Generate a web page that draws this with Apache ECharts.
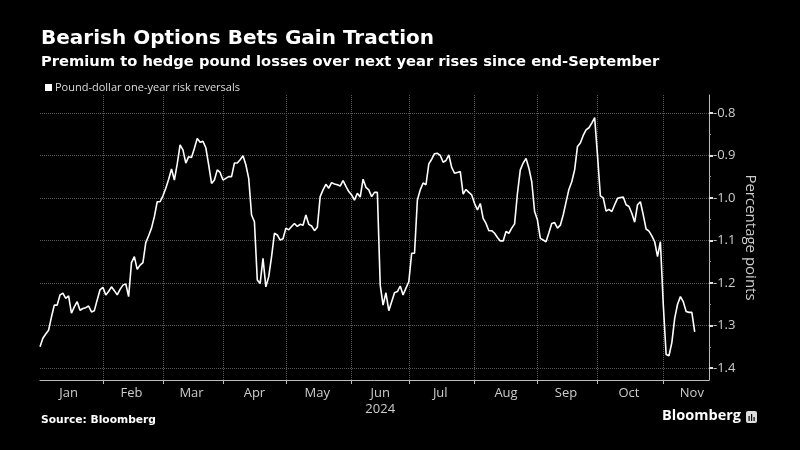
<!DOCTYPE html>
<html>
<head>
<meta charset="utf-8">
<script src="https://cdn.jsdelivr.net/npm/echarts@6/dist/echarts.min.js"></script>
<style>
  html, body { margin: 0; padding: 0; background: #000; }
  #chart { width: 800px; height: 450px; }
</style>
</head>
<body>
<div id="chart"></div>
<script>
// pound-dollar one-year risk reversals, one value per weekday
const janVals = [-1.35, -1.33, -1.32, -1.311, -1.28, -1.252, -1.252, -1.228, -1.224, -1.236, -1.23, -1.271, -1.256, -1.244, -1.264, -1.26, -1.258, -1.254, -1.268, -1.265, -1.24, -1.216];
const febVals = [-1.21, -1.228, -1.22, -1.209, -1.218, -1.228, -1.215, -1.205, -1.202, -1.232, -1.152, -1.138, -1.168, -1.158, -1.152, -1.105, -1.089, -1.071, -1.044, -1.009, -1.009];
const marVals = [-0.995, -0.977, -0.956, -0.932, -0.958, -0.92, -0.875, -0.887, -0.918, -0.903, -0.905, -0.883, -0.86, -0.869, -0.867, -0.882, -0.922, -0.966, -0.958, -0.934, -0.94];
const aprVals = [-0.958, -0.954, -0.95, -0.95, -0.918, -0.918, -0.91, -0.901, -0.922, -0.954, -1.04, -1.056, -1.193, -1.201, -1.142, -1.209, -1.185, -1.138, -1.083, -1.087, -1.099, -1.096];
const mayVals = [-1.071, -1.075, -1.067, -1.06, -1.067, -1.062, -1.064, -1.04, -1.062, -1.066, -1.077, -1.069, -0.997, -0.981, -0.968, -0.977, -0.964, -0.967, -0.969, -0.972, -0.959, -0.973, -0.985];
const junVals = [-0.993, -1.005, -0.989, -0.998, -0.956, -0.975, -0.981, -0.997, -0.987, -0.987, -1.205, -1.252, -1.223, -1.265, -1.244, -1.223, -1.22, -1.207, -1.228, -1.212];
const julVals = [-1.197, -1.13, -1.13, -1.005, -0.981, -0.965, -0.969, -0.92, -0.909, -0.896, -0.895, -0.9, -0.916, -0.912, -0.899, -0.928, -0.942, -0.94, -0.938, -0.991, -0.98, -0.987, -0.993];
const augVals = [-1.013, -1.028, -1.013, -1.048, -1.06, -1.077, -1.077, -1.083, -1.093, -1.101, -1.101, -1.079, -1.083, -1.071, -1.061, -0.989, -0.934, -0.918, -0.907, -0.93, -0.962, -1.032];
const sepVals = [-1.052, -1.095, -1.099, -1.103, -1.082, -1.06, -1.058, -1.071, -1.064, -1.04, -1.01, -0.98, -0.962, -0.934, -0.879, -0.871, -0.853, -0.84, -0.835, -0.824, -0.811];
const octVals = [-0.9, -0.995, -1.0, -1.031, -1.027, -1.032, -1.016, -1.001, -0.999, -0.998, -1.016, -1.02, -1.036, -1.057, -1.016, -1.009, -1.04, -1.073, -1.078, -1.089, -1.103, -1.138, -1.103];
const novVals = [-1.25, -1.368, -1.371, -1.34, -1.283, -1.25, -1.232, -1.244, -1.267, -1.269, -1.269, -1.315];

const monthNames = ["Jan", "Feb", "Mar", "Apr", "May", "Jun", "Jul", "Aug", "Sep", "Oct", "Nov"];
const yTicks = [-1.4, -1.3, -1.2, -1.1, -1.0, -0.9, -0.8];
const yMinorTicks = [-1.35, -1.25, -1.15, -1.05, -0.95, -0.85];

const seriesVals = [].concat(janVals, febVals, marVals, aprVals, mayVals, junVals, julVals, augVals, sepVals, octVals, novVals);

// weekday categories (the axis runs a week past the last print)
const DAY = 86400000;
const startDate = Date.UTC(2024, 0, 2);
const endDate = Date.UTC(2024, 10, 25);
const dates = [];
for (let t = startDate; t <= endDate; t += DAY) {
  const wd = new Date(t).getUTCDay();
  if (wd !== 0 && wd !== 6) dates.push(new Date(t).toISOString().slice(0, 10));
}

function weekdaysBetween(a, b) {
  let n = 0;
  for (let t = a; t < b; t += DAY) {
    const wd = new Date(t).getUTCDay();
    if (wd !== 0 && wd !== 6) n++;
  }
  return n;
}

// month label sits in the middle of its band of weekdays
const labelAt = {};
monthNames.forEach((m, k) => {
  const first = Date.UTC(2024, k, 1);
  const next = Date.UTC(2024, k + 1, 1);
  const offset = first < startDate ? -weekdaysBetween(first, startDate) : weekdaysBetween(startDate, first);
  const count = weekdaysBetween(first, next);
  labelAt[Math.floor(offset + count / 2)] = m;
});

const isMonthStart = (idx) => idx > 0 && dates[idx].slice(5, 7) !== dates[idx - 1].slice(5, 7);

const chart = echarts.init(document.getElementById("chart"));
const font = "'Open Sans', sans-serif";
const headFont = "'DejaVu Sans', sans-serif";
const yMin = -1.428, yMax = -0.758;

const option = {
  backgroundColor: "#000",
  animation: false,
  textStyle: { fontFamily: font },
  title: [
    {
      text: "Bearish Options Bets Gain Traction",
      left: 41, top: 29, padding: 0,
      textStyle: { color: "#fff", fontSize: 20, fontWeight: "bold", fontFamily: headFont }
    },
    {
      text: "Premium to hedge pound losses over next year rises since end-September",
      left: 41, top: 55, padding: 0,
      textStyle: { color: "#fff", fontSize: 14.7, fontWeight: "bold", fontFamily: headFont }
    },
    {
      text: "Source: Bloomberg",
      left: 41, top: 415, padding: 0,
      textStyle: { color: "#fff", fontSize: 10.7, fontWeight: "bold", fontFamily: headFont }
    }
  ],
  legend: {
    left: 40, top: 77,
    icon: "rect", itemWidth: 7, itemHeight: 7, itemGap: 4,
    textStyle: { color: "#ddd", fontSize: 11, padding: [0, 0, 0, -2] },
    data: ["Pound-dollar one-year risk reversals"]
  },
  grid: { left: 40, right: 91, top: 95, bottom: 70 },
  xAxis: {
    type: "category",
    data: dates,
    boundaryGap: false,
    axisLine: { lineStyle: { color: "#bbb", width: 1 } },
    axisTick: { interval: isMonthStart, length: 4, lineStyle: { color: "#bbb" } },
    splitLine: { show: true, interval: isMonthStart, lineStyle: { color: "#555", type: "dotted" } },
    axisLabel: {
      interval: (idx) => labelAt[idx] !== undefined,
      color: "#ccc", fontSize: 13, margin: 5, lineHeight: 16,
      formatter: (val, idx) => labelAt[idx] + (labelAt[idx] === "Jun" ? "\n2024" : "")
    }
  },
  yAxis: [
    {
      type: "value",
      position: "right",
      min: yMin, max: yMax,
      name: "Percentage points",
      nameLocation: "middle",
      nameRotate: -90,
      nameGap: 34,
      nameMoveOverlap: false,
      nameTextStyle: { color: "#ccc", fontSize: 15 },
      axisLine: { show: true, lineStyle: { color: "#bbb" } },
      axisTick: { show: true, customValues: yTicks, length: 4, lineStyle: { color: "#ddd", width: 2 } },
      axisLabel: { customValues: yTicks, color: "#ccc", fontSize: 13, margin: 4, formatter: (v) => v.toFixed(1) },
      splitLine: { show: true, lineStyle: { color: "#555", type: "dotted" } }
    },
    {
      type: "value",
      position: "right",
      min: yMin, max: yMax,
      axisLine: { show: false },
      axisTick: { show: true, customValues: yMinorTicks, length: 2, lineStyle: { color: "#999" } },
      axisLabel: { show: false },
      splitLine: { show: false }
    }
  ],
  graphic: [
    {
      type: "text", right: 59, top: 408,
      style: { text: "Bloomberg", fill: "#fff", font: "bold 14.5px " + font }
    },
    {
      type: "group", right: 43, top: 411,
      children: [
        { type: "rect", shape: { x: 0, y: 0, width: 11, height: 12, r: 2 }, style: { fill: "#ddd" } },
        { type: "rect", shape: { x: 2.5, y: 5, width: 1.2, height: 5 }, style: { fill: "#000" } },
        { type: "rect", shape: { x: 5, y: 3, width: 1.2, height: 7 }, style: { fill: "#000" } },
        { type: "rect", shape: { x: 7.5, y: 6, width: 1.2, height: 4 }, style: { fill: "#000" } }
      ]
    }
  ],
  series: [
    {
      name: "Pound-dollar one-year risk reversals",
      type: "line",
      yAxisIndex: 0,
      data: seriesVals,
      showSymbol: false,
      symbol: "none",
      itemStyle: { color: "#fff" },
      lineStyle: { color: "#fff", width: 1.6 }
    }
  ]
};

chart.setOption(option);
</script>
</body>
</html>
